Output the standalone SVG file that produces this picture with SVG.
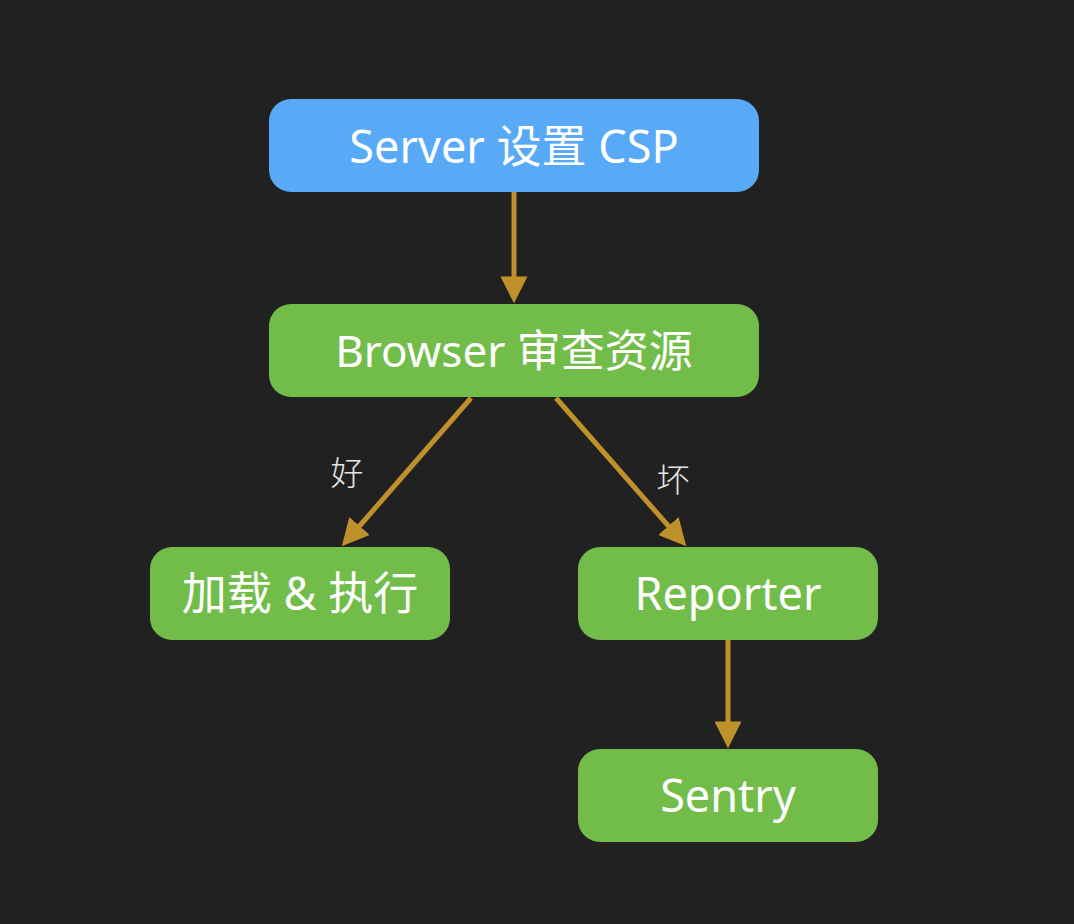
<svg xmlns="http://www.w3.org/2000/svg" width="1074" height="924" viewBox="0 0 1074 924">
  <style>
    .node-blue { fill: #58aaf6; }
    .node-green { fill: #72bd4a; }
    .label { font-family: "Noto Sans", "Noto Sans CJK SC", sans-serif; font-size: 45px; fill: #ffffff; text-anchor: middle; }
    .edge { stroke: #bf912b; stroke-width: 5; fill: none; }
    .edge-label { font-family: "Noto Sans CJK SC", "Noto Sans", sans-serif; font-weight: 300; font-size: 33px; fill: #e6e6e6; text-anchor: middle; }
  </style>
  <defs>
    <marker id="arrow" markerUnits="userSpaceOnUse" markerWidth="27" markerHeight="27" viewBox="0 0 26 26" refX="16" refY="13" orient="auto">
      <path d="M0,0 L26,13 L0,26 Z" fill="#bf912b"/>
    </marker>
  </defs>
  <rect width="1074" height="924" fill="#212121"/>

  <g id="connectors">
    <line class="edge" x1="514" y1="192" x2="514" y2="293" marker-end="url(#arrow)"/>
    <line class="edge" x1="471" y1="398" x2="348.6" y2="538.5" marker-end="url(#arrow)"/>
    <line class="edge" x1="556" y1="398" x2="679.4" y2="538.5" marker-end="url(#arrow)"/>
    <line class="edge" x1="728" y1="640" x2="728" y2="738" marker-end="url(#arrow)"/>
    <text class="edge-label" x="347" y="485">好</text>
    <text class="edge-label" x="673" y="492">坏</text>
  </g>

  <g id="node-server">
    <rect class="node-blue" x="269" y="99" width="490" height="93" rx="22"/>
    <text class="label" x="514" y="163">Server 设置 CSP</text>
  </g>
  <g id="node-browser">
    <rect class="node-green" x="269" y="304" width="490" height="93" rx="22"/>
    <text class="label" x="514" y="367" style="font-size:44px">Browser 审查资源</text>
  </g>
  <g id="node-load">
    <rect class="node-green" x="150" y="547" width="300" height="93" rx="22"/>
    <text class="label" x="300" y="610">加载 &amp; 执行</text>
  </g>
  <g id="node-reporter">
    <rect class="node-green" x="578" y="547" width="300" height="93" rx="22"/>
    <text class="label" x="728" y="610">Reporter</text>
  </g>
  <g id="node-sentry">
    <rect class="node-green" x="578" y="749" width="300" height="93" rx="22"/>
    <text class="label" x="728" y="812">Sentry</text>
  </g>
</svg>
